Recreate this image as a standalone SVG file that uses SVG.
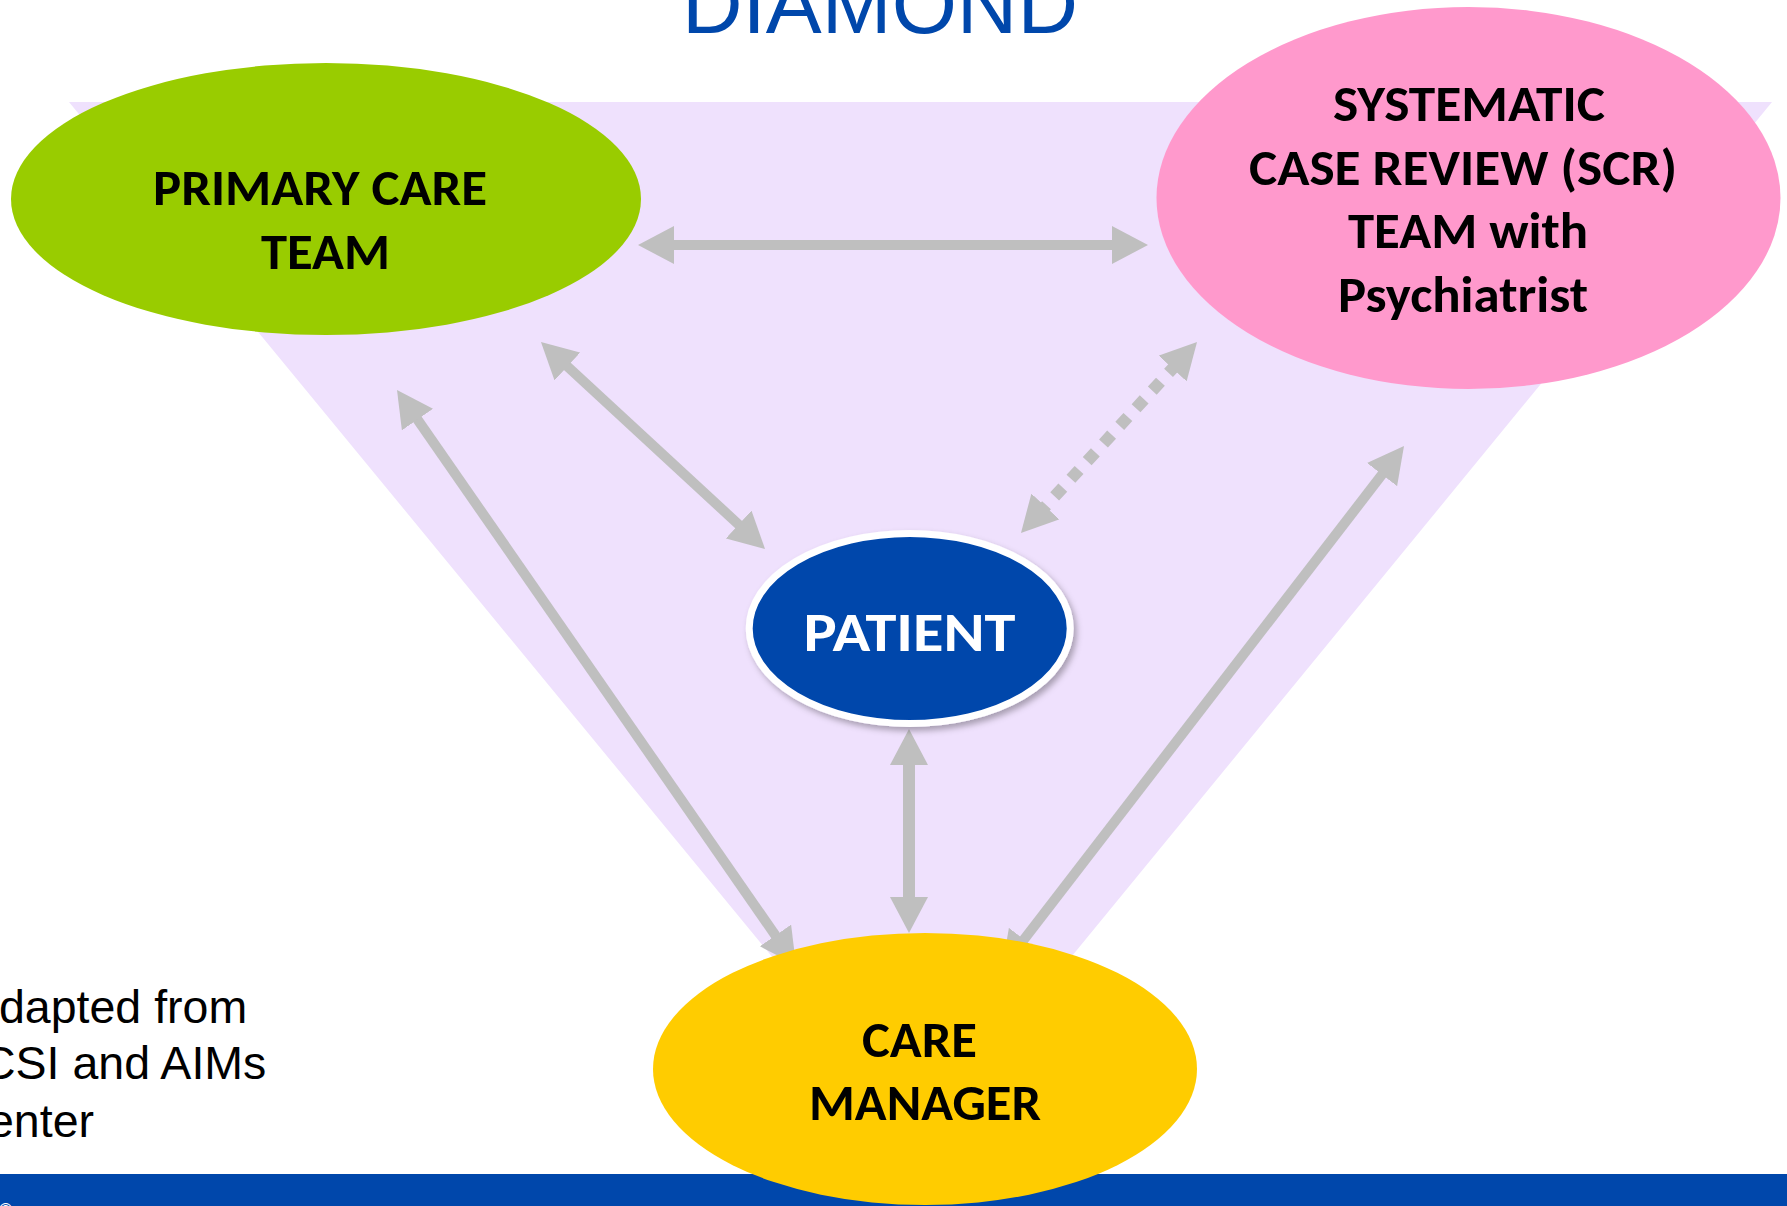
<svg xmlns="http://www.w3.org/2000/svg" width="1787" height="1206" viewBox="0 0 1787 1206">
  <style>
    .lbl { font-family: Carlito, 'Open Sans', 'Liberation Sans', sans-serif; font-weight: 700; font-size: 50px; text-anchor: middle; fill: #000000; }
    .note { font-family: 'Liberation Sans', Arial, sans-serif; font-size: 46.5px; fill: #000000; }
    .conn { stroke: #BFBFBF; fill: none; stroke-width: 10; marker-start: url(#ah); marker-end: url(#ah); }
  </style>
  <defs>
    <marker id="ah" viewBox="0 0 36 38" refX="6" refY="19" markerWidth="36" markerHeight="38" markerUnits="userSpaceOnUse" orient="auto-start-reverse">
      <path d="M0,0 L36,19 L0,38 Z" fill="#BFBFBF"/>
    </marker>
    <filter id="shadow" x="-20%" y="-20%" width="140%" height="150%">
      <feDropShadow dx="3" dy="4" stdDeviation="3" flood-color="#000000" flood-opacity="0.3"/>
    </filter>
  </defs>

  <rect x="0" y="0" width="1787" height="1206" fill="#FFFFFF"/>

  <!-- background triangle -->
  <polygon id="triangle" points="69,102 1772,102 922,1139" fill="#EFE1FD"/>

  <!-- bottom bar -->
  <rect id="bottom-bar" x="0" y="1174" width="1787" height="32" fill="#0047AB"/>
  <text x="-1" y="1216" font-family="'Liberation Sans', sans-serif" font-size="18" fill="#FFFFFF">©</text>

  <!-- title -->
  <text id="title" x="880" y="33" font-family="'Liberation Sans', Arial, sans-serif" font-size="84" fill="#0047AB" text-anchor="middle" textLength="396" lengthAdjust="spacingAndGlyphs">DIAMOND</text>

  <!-- source note -->
  <g id="note">
    <text class="note" x="-1" y="1023">dapted from</text>
    <text class="note" x="-18" y="1079">CSI and AIMs</text>
    <text class="note" x="-12" y="1137">enter</text>
  </g>

  <!-- connectors -->
  <g id="connectors">
    <line class="conn" x1="668" y1="245" x2="1118" y2="245"/>
    <line class="conn" x1="563" y1="362.4" x2="743" y2="528.6"/>
    <line class="conn" x1="414.1" y1="414.6" x2="778.9" y2="940.4"/>
    <line class="conn" x1="909" y1="759" x2="909" y2="903" style="stroke-width:12"/>
    <line class="conn" x1="1385.7" y1="469.8" x2="1020.3" y2="944.2"/>
    <line class="conn" x1="1176.7" y1="364.1" x2="1041.3" y2="510.9" style="stroke-width:12; stroke-dasharray:12 12"/>
  </g>

  <!-- nodes -->
  <g id="primary-care-team">
    <ellipse cx="326" cy="199" rx="315" ry="136" fill="#99CC00"/>
    <text class="lbl" x="320" y="205" textLength="334" lengthAdjust="spacingAndGlyphs">PRIMARY CARE</text>
    <text class="lbl" x="325.5" y="269" textLength="129" lengthAdjust="spacingAndGlyphs">TEAM</text>
  </g>

  <g id="scr-team">
    <ellipse cx="1468.5" cy="198" rx="312" ry="191" fill="#FF99CC"/>
    <text class="lbl" x="1469" y="121" textLength="272" lengthAdjust="spacingAndGlyphs">SYSTEMATIC</text>
    <text class="lbl" x="1463" y="185" textLength="428" lengthAdjust="spacingAndGlyphs">CASE REVIEW (SCR)</text>
    <text class="lbl" x="1468" y="248" textLength="240" lengthAdjust="spacingAndGlyphs">TEAM with</text>
    <text class="lbl" x="1463" y="312" textLength="250" lengthAdjust="spacingAndGlyphs">Psychiatrist</text>
  </g>

  <g id="patient">
    <ellipse cx="909.7" cy="628.5" rx="160.5" ry="95" fill="#0047AB" stroke="#FFFFFF" stroke-width="7" filter="url(#shadow)"/>
    <text class="lbl" x="909.5" y="651" style="font-size:55px; fill:#FFFFFF" textLength="212" lengthAdjust="spacingAndGlyphs">PATIENT</text>
  </g>

  <g id="care-manager">
    <ellipse cx="925" cy="1069" rx="272" ry="136" fill="#FFCC00"/>
    <text class="lbl" x="919.5" y="1057" textLength="115" lengthAdjust="spacingAndGlyphs">CARE</text>
    <text class="lbl" x="925" y="1120" textLength="232" lengthAdjust="spacingAndGlyphs">MANAGER</text>
  </g>
</svg>
